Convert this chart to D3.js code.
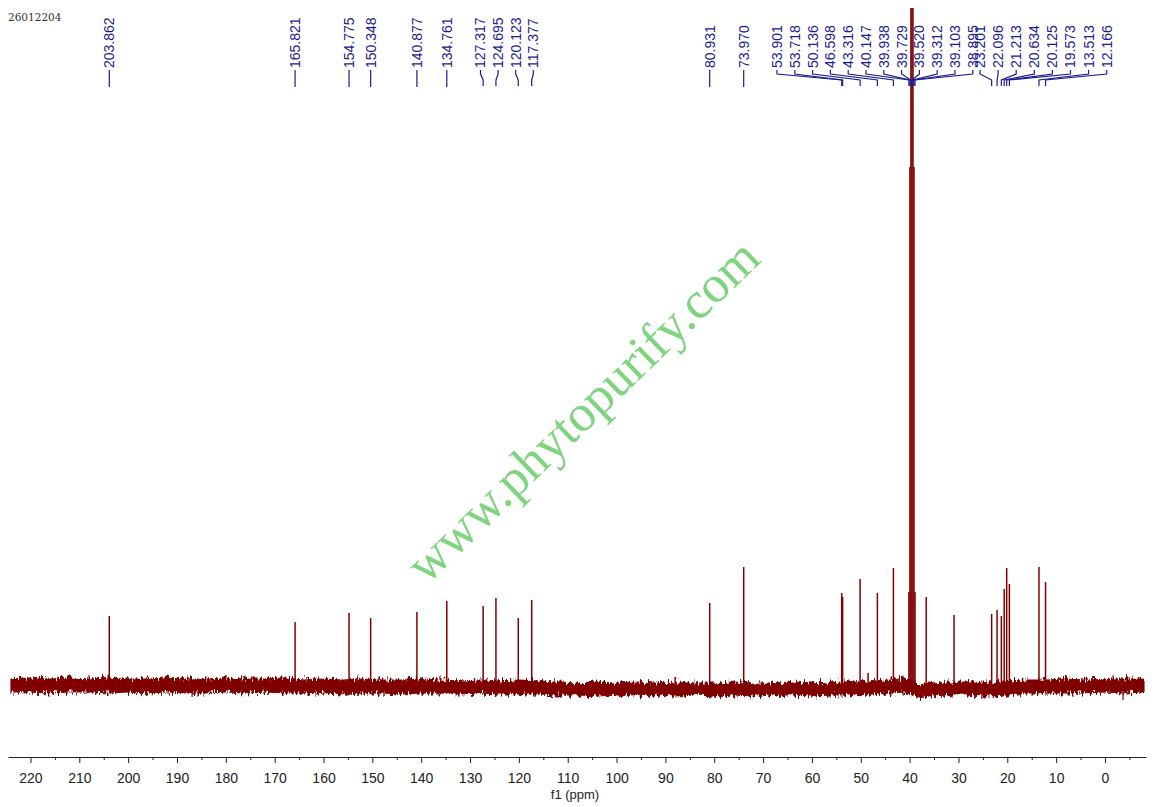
<!DOCTYPE html>
<html lang="en">
<head>
<meta charset="UTF-8">
<title>26012204 13C NMR</title>
<script src="https://cdn.jsdelivr.net/npm/d3@7"></script>
<style>
  body { margin: 0; background: #fff; }
  svg { display: block; }
</style>
</head>
<body>
<script>

var w = 1154, h = 807;

// labelled peaks (ppm) and their heights above the baseline
var peakLabels = ["203.862", "165.821", "154.775", "150.348", "140.877", "134.761",
  "127.317", "124.695", "120.123", "117.377", "80.931", "73.970",
  "53.901", "53.718", "50.136", "46.598", "43.316", "40.147", "39.938", "39.729",
  "39.520", "39.312", "39.103", "38.895", "23.201", "22.096", "21.213", "20.634",
  "20.125", "19.573", "13.513", "12.166"];
var peakHeight = [71, 65, 74, 69, 75, 86,
  81, 89, 69, 87, 84, 120,
  94, 90, 108, 94, 119, 95, 520, 900,
  1000, 900, 520, 95, 73, 77, 71, 98,
  119, 103, 120, 105];

// small peaks in the trace that carry no label
var extraPpm = [88.0, 48.5, 36.6, 30.9, 8.0];
var extraHeight = [10, 14, 90, 72, 12];

// baseline noise band, top and bottom edge
var noisePpm = [224, 220, 216, 212, 208, 204, 200, 196, 192, 188, 184, 180, 176, 172, 168,
  164, 160, 156, 152, 148, 144, 140, 136, 132, 128, 124, 120, 116, 112, 108, 104, 100,
  96, 92, 88, 84, 80, 76, 72, 68, 64, 60, 56, 52, 48, 44, 41, 38, 36, 32, 28, 24, 20,
  16, 12, 8, 4, 0, -4, -8];
var noiseHi = [8, 9, 8, 9, 8, 9, 8, 8, 9, 8, 8, 9, 8, 8, 9,
  7, 8, 7, 8, 7, 7, 8, 7, 6, 7, 6, 7, 6, 5, 4, 5, 4,
  5, 4, 5, 4, 4, 5, 4, 4, 5, 4, 5, 5, 6, 7, 9, 2, 4, 5, 5, 5, 6,
  7, 7, 8, 7, 8, 8, 8];
var noiseLo = [-5, -5, -6, -5, -5, -6, -5, -6, -5, -6, -6, -5, -6, -5, -6,
  -6, -6, -7, -6, -6, -7, -6, -6, -7, -6, -7, -7, -7, -8, -8, -9, -8,
  -9, -8, -9, -8, -9, -8, -9, -8, -8, -9, -8, -8, -7, -6, -5, -11, -9, -8, -8, -9, -8,
  -6, -6, -6, -6, -5, -6, -5];
var spikePpm = [186.9, 139.8, 25.2, -3.7];
var spikeLow = [-10, -9, -12, -13];

var tickLabels = [220, 210, 200, 190, 180, 170, 160, 150, 140, 130, 120, 110,
  100, 90, 80, 70, 60, 50, 40, 30, 20, 10, 0];
var minorTicks = [215, 205, 195, 185, 175, 165, 155, 145, 135, 125, 115, 105,
  95, 85, 75, 65, 55, 45, 35, 25, 15, 5, -5];

var svg = d3.select('body').append('svg').attr('width', w).attr('height', h);

var x = d3.scaleLinear().domain([224.6, -8.4]).range([8, 1146]);
var y = d3.scaleLinear().domain([0, 680]).range([687, 7]);

var red = '#800000', blue = '#1b1b8f';

// watermark
svg.append('text')
  .attr('transform', 'translate(582,410) rotate(-44)')
  .attr('text-anchor', 'middle')
  .attr('dy', '0.35em')
  .style('font-family', '"Liberation Serif", serif')
  .style('font-size', '52px')
  .style('fill', '#7fd47f')
  .text('www.phytopurify.com');

svg.append('text')
  .attr('x', 8).attr('y', 21)
  .style('font-family', '"DejaVu Serif", serif')
  .style('font-size', '10.5px')
  .style('fill', '#333')
  .text('26012204');

var defs = svg.append('defs');
defs.append('clipPath').attr('id', 'plot')
  .append('rect').attr('x', 0).attr('y', 8).attr('width', w).attr('height', 720);

// roughen the noise band edges
var f = defs.append('filter').attr('id', 'rough')
  .attr('x', '-0.01').attr('y', '-1').attr('width', '1.02').attr('height', '3')
  .attr('color-interpolation-filters', 'sRGB');
f.append('feTurbulence').attr('type', 'fractalNoise')
  .attr('baseFrequency', '0.5 0.15').attr('numOctaves', 2).attr('seed', 4).attr('result', 't');
f.append('feColorMatrix').attr('in', 't').attr('type', 'matrix')
  .attr('values', '0 0 0 0 0.5  0 1 0 0 0  0 0 1 0 0  0 0 0 0 1').attr('result', 'm');
f.append('feDisplacementMap').attr('in', 'SourceGraphic').attr('in2', 'm')
  .attr('scale', 12).attr('xChannelSelector', 'R').attr('yChannelSelector', 'G');

var spec = svg.append('g').attr('clip-path', 'url(#plot)');

var band = noisePpm.map(function(p, i) { return {p: p, hi: noiseHi[i], lo: noiseLo[i]}; });
spec.append('g').attr('filter', 'url(#rough)')
  .append('path')
  .datum(band)
  .attr('d', d3.area()
    .x(function(d) { return x(d.p); })
    .y0(function(d) { return y(d.lo); })
    .y1(function(d) { return y(d.hi); }))
  .attr('fill', red)
  .attr('stroke', red)
  .attr('stroke-width', 1);

spec.selectAll('line.spike').data(spikePpm).enter().append('line')
  .attr('class', 'spike')
  .attr('x1', function(d) { return x(d); })
  .attr('x2', function(d) { return x(d); })
  .attr('y1', y(0))
  .attr('y2', function(d, i) { return y(spikeLow[i]); })
  .attr('stroke', red).attr('stroke-width', 1.2);

var peaks = peakLabels.map(function(l, i) { return {p: +l, h: peakHeight[i]}; })
  .concat(extraPpm.map(function(p, i) { return {p: p, h: extraHeight[i]}; }));

spec.selectAll('line.peak').data(peaks).enter().append('line')
  .attr('class', 'peak')
  .attr('x1', function(d) { return x(d.p); })
  .attr('x2', function(d) { return x(d.p); })
  .attr('y1', y(-2))
  .attr('y2', function(d) { return y(d.h); })
  .attr('stroke', red)
  .attr('stroke-width', 1.5);

// axis
var ax = svg.append('g').attr('transform', 'translate(0,757)');
ax.call(d3.axisBottom(x).tickValues(tickLabels).tickSize(6).tickSizeOuter(0).tickPadding(10));
ax.selectAll('text').style('font-family', '"Liberation Sans", Arial, sans-serif')
  .style('font-size', '14px').style('fill', '#222');
ax.selectAll('line, path').attr('stroke', '#222');
var axm = svg.append('g').attr('transform', 'translate(0,757)');
axm.call(d3.axisBottom(x).tickValues(minorTicks).tickSize(3).tickSizeOuter(0).tickFormat(''));
axm.select('.domain').remove();
axm.selectAll('line').attr('stroke', '#222');

svg.append('text')
  .attr('x', 575).attr('y', 799)
  .attr('text-anchor', 'middle')
  .style('font-family', '"Liberation Sans", Arial, sans-serif')
  .style('font-size', '13px')
  .style('fill', '#222')
  .text('f1 (ppm)');

// peak labels: crowded runs are spread out and joined to their peak by a bent line
var labelGroups = [
  {from: 6, to: 9, x0: 480.5, step: 17.6},
  {from: 12, to: 23, x0: 777, step: 17.8},
  {from: 24, to: 31, x0: 980, step: 18.1}
];
var labels = peakLabels.map(function(l, i) {
  var px = x(+l), lx = px, bent = false;
  labelGroups.forEach(function(g) {
    if (i >= g.from && i <= g.to) { lx = g.x0 + (i - g.from) * g.step; bent = true; }
  });
  return {text: l, px: px, lx: lx, bent: bent};
});

var lg = svg.append('g');
lg.selectAll('path').data(labels).enter().append('path')
  .attr('d', function(d) {
    if (!d.bent) return 'M' + d.px + ',70V87';
    return 'M' + d.lx + ',70V74L' + d.px + ',80V86';
  })
  .attr('fill', 'none')
  .attr('stroke', blue)
  .attr('stroke-width', 1.2);

lg.selectAll('text').data(labels).enter().append('text')
  .attr('transform', function(d) { return 'translate(' + d.lx + ',68) rotate(-90)'; })
  .attr('dy', '0.35em')
  .style('font-family', '"Liberation Sans", Arial, sans-serif')
  .style('font-size', '14px')
  .style('fill', blue)
  .text(function(d) { return d.text; });

</script>
</body>
</html>
